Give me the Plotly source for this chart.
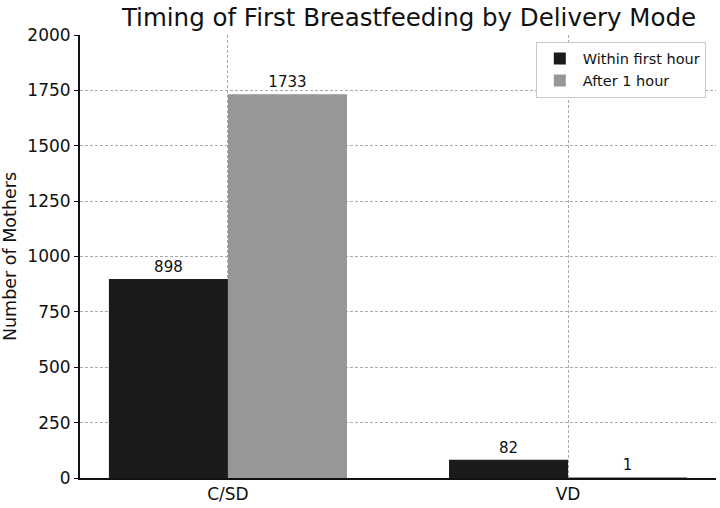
import plotly.graph_objects as go

categories = ["C/SD", "VD"]
within_first_hour = [898, 82]
after_1_hour = [1733, 1]
series_names = ["Within first hour", "After 1 hour"]
y_ticks = [0, 250, 500, 750, 1000, 1250, 1500, 1750, 2000]

fig = go.Figure()
fig.add_trace(go.Bar(
    x=categories, y=within_first_hour, name=series_names[0],
    marker=dict(color="#1b1b1b", line=dict(width=0)),
    text=[str(v) for v in within_first_hour], textposition="outside",
    textfont=dict(size=15, color="#111111"), cliponaxis=False,
))
fig.add_trace(go.Bar(
    x=categories, y=after_1_hour, name=series_names[1],
    marker=dict(color="#979797", line=dict(width=0)),
    text=[str(v) for v in after_1_hour], textposition="outside",
    textfont=dict(size=15, color="#111111"), cliponaxis=False,
))

fig.update_layout(
    width=720, height=508,
    margin=dict(l=80, r=4, t=35, b=27),
    paper_bgcolor="white", plot_bgcolor="white",
    font=dict(family="DejaVu Sans", color="#111111"),
    title=dict(text="Timing of First Breastfeeding by Delivery Mode",
               xref="container", x=409 / 720, xanchor="center",
               y=0.982, yanchor="top",
               font=dict(size=24.5, color="#111111")),
    barmode="group", bargap=0.3, bargroupgap=0,
    showlegend=True,
    legend=dict(x=0.984, y=0.985, xanchor="right", yanchor="top",
                bordercolor="#c8c8c8", borderwidth=1, bgcolor="white",
                font=dict(size=14.5), tracegroupgap=0,
                itemwidth=36),
    xaxis=dict(
        type="category", range=[-0.435, 1.435],
        showline=True, linecolor="#111111", linewidth=2,
        ticks="", tickfont=dict(size=17),
        showgrid=True, gridcolor="#aaaaaa", griddash="3px,2px", gridwidth=1,
        zeroline=False,
    ),
    yaxis=dict(
        range=[0, 2000], tickvals=y_ticks,
        showline=True, linecolor="#111111", linewidth=2,
        ticks="outside", ticklen=4, tickcolor="#111111",
        tickfont=dict(size=17),
        title=dict(text="Number of Mothers", font=dict(size=17.5), standoff=8),
        showgrid=True, gridcolor="#aaaaaa", griddash="3px,2px", gridwidth=1,
        zeroline=False,
    ),
)

fig.write_html("out.html")
